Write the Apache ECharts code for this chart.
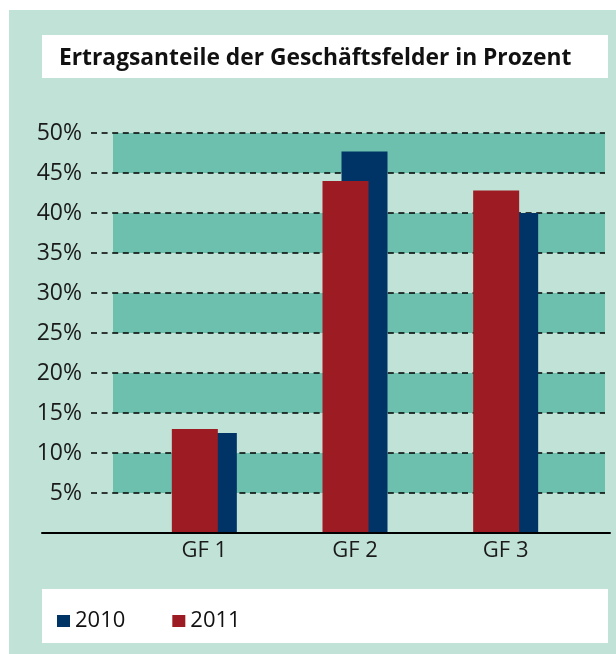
<!DOCTYPE html>
<html>
<head>
<meta charset="utf-8">
<script src="https://cdn.jsdelivr.net/npm/echarts@6/dist/echarts.min.js"></script>
<style>
  html, body { margin: 0; padding: 0; background: #fff; }
  #chart { width: 616px; height: 654px; }
</style>
</head>
<body>
<div id="chart"></div>
<script>
const categories = ["GF 1", "GF 2", "GF 3"];
const values2011 = [13, 44, 42.8];
const values2010 = [12.5, 47.7, 40];
const yTicks = [0, 5, 10, 15, 20, 25, 30, 35, 40, 45, 50];

const FONT = "Open Sans";
const BG = "#c0e2d7";
const BAND = "#6cc0ad";
const RED = "#9d1b22";
const NAVY = "#003366";

const chart = echarts.init(document.getElementById("chart"));

// all grids share the same vertical extent so the value scales line up
const plotTop = 133, plotBottom = 121;
const yMin = yTicks[0], yMax = yTicks[yTicks.length - 1], yStep = yTicks[1] - yTicks[0];

const option = {
  backgroundColor: "#ffffff",
  animation: false,
  textStyle: { fontFamily: FONT },
  graphic: [
    { type: "rect", z: -10, shape: { x: 9, y: 10, width: 607, height: 644 }, style: { fill: BG } },
    { type: "rect", z: -9, shape: { x: 42, y: 35, width: 566, height: 43 }, style: { fill: "#fff" } },
    { type: "rect", z: -9, shape: { x: 42, y: 589, width: 566, height: 54 }, style: { fill: "#fff" } }
  ],
  title: {
    text: "Ertragsanteile der Geschäftsfelder in Prozent",
    left: 54,
    top: 42,
    textStyle: { fontFamily: FONT, fontSize: 22.8, fontWeight: "bold", color: "#111" }
  },
  legend: {
    data: ["2010", "2011"],
    left: 52,
    top: 605,
    icon: "rect",
    itemWidth: 13,
    itemHeight: 12,
    itemGap: 47,
    textStyle: { fontFamily: FONT, fontSize: 22, color: "#111" }
  },
  grid: [
    { left: 91, right: 11, top: plotTop, bottom: plotBottom },   // dashed lines + labels
    { left: 113, right: 11, top: plotTop, bottom: plotBottom },  // bands
    { left: 129, right: 35, top: plotTop, bottom: plotBottom },  // bars
    { left: 42, right: 6, top: plotTop, bottom: plotBottom }     // base line
  ],
  xAxis: [
    { gridIndex: 0, type: "value", show: false },
    { gridIndex: 1, type: "value", show: false },
    {
      gridIndex: 2,
      type: "category",
      data: categories,
      axisLine: { show: false },
      axisTick: { show: false },
      axisLabel: { fontFamily: FONT, fontSize: 22, color: "#1a1a1a", margin: 7 }
    },
    {
      gridIndex: 3,
      type: "value",
      z: 10,
      axisLine: { show: true, onZero: false, lineStyle: { color: "#000", width: 2 } },
      axisTick: { show: false },
      axisLabel: { show: false },
      splitLine: { show: false }
    }
  ],
  yAxis: [
    {
      gridIndex: 0,
      type: "value",
      min: yMin, max: yMax, interval: yStep,
      z: 1,
      axisLine: { show: false },
      axisTick: { show: false },
      axisLabel: {
        fontFamily: FONT, fontSize: 23, color: "#1a1a1a", margin: 9,
        formatter: v => (v === 0 ? "" : v + "%")
      },
      splitLine: { show: true, lineStyle: { color: "#000", width: 1.5, type: [6, 4.6] } }
    },
    {
      gridIndex: 1,
      type: "value",
      min: yMin, max: yMax, interval: yStep,
      z: 0,
      axisLine: { show: false },
      axisTick: { show: false },
      axisLabel: { show: false },
      splitLine: { show: false },
      splitArea: { show: true, areaStyle: { color: ["rgba(0,0,0,0)", BAND] } }
    },
    { gridIndex: 2, type: "value", min: yMin, max: yMax, interval: yStep, show: false },
    { gridIndex: 3, type: "value", min: yMin, max: yMax, interval: yStep, show: false }
  ],
  series: [
    {
      name: "2011",
      type: "bar",
      xAxisIndex: 2,
      yAxisIndex: 2,
      data: values2011,
      barWidth: 46,
      barGap: "-58.7%",
      z: 4,
      itemStyle: { color: RED }
    },
    {
      name: "2010",
      type: "bar",
      xAxisIndex: 2,
      yAxisIndex: 2,
      data: values2010,
      barWidth: 46,
      z: 3,
      itemStyle: { color: NAVY }
    }
  ]
};

chart.setOption(option);
</script>
</body>
</html>
